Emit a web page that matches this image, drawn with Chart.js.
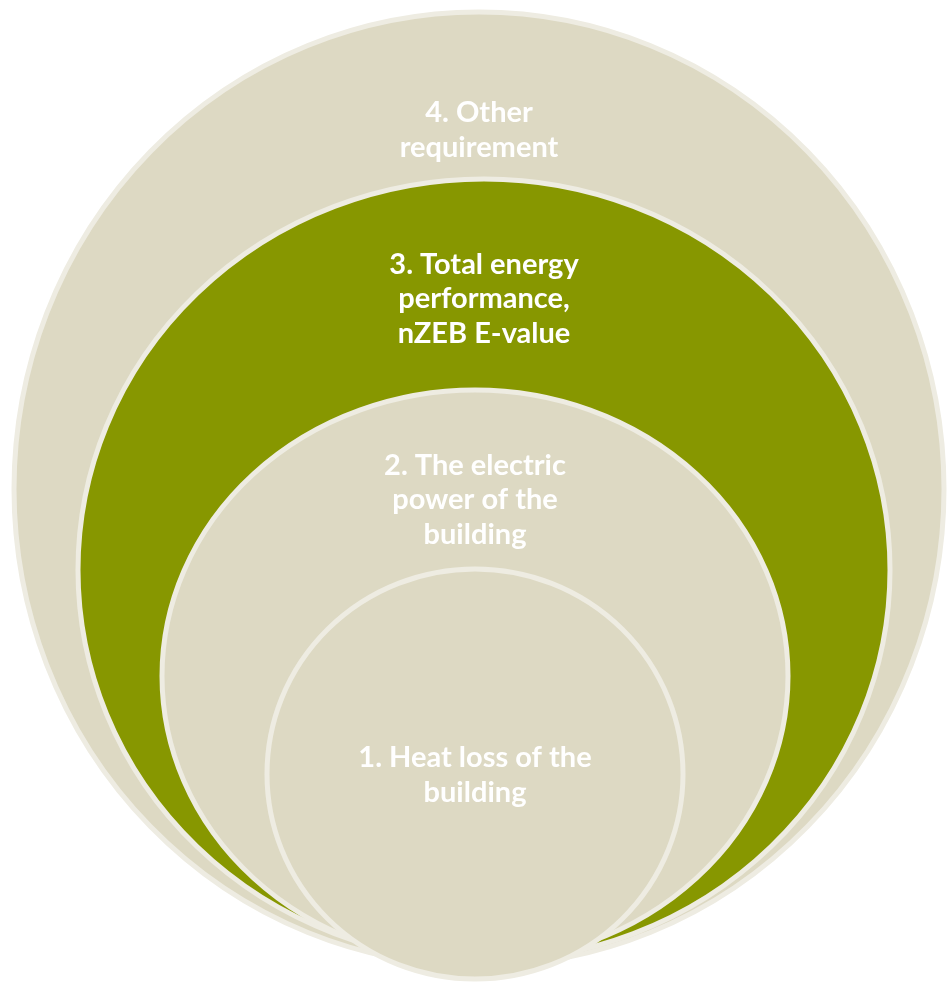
<!DOCTYPE html>
<html>
<head>
<meta charset="utf-8">
<title>nZEB requirements</title>
<script src="https://cdn.jsdelivr.net/npm/chart.js@4"></script>
<style>
    html, body { margin: 0; padding: 0; background: #ffffff; }
    #wrap { width: 947px; height: 984px; }
</style>
</head>
<body>
<div id="wrap"><canvas id="rings" width="947" height="984"></canvas></div>
<script>
// rings, from the outermost to the innermost
const ringLabels = [
    ['4. Other', 'requirement'],
    ['3. Total energy', 'performance,', 'nZEB E-value'],
    ['2. The electric', 'power of the', 'building'],
    ['1. Heat loss of the', 'building']
];
const centerX = [479, 484, 475, 475];
const centerY = [489, 570, 676, 774];
const radiusX = [465, 406, 313, 208];
const radiusY = [477, 391, 286, 205];
const labelY = [130, 299, 500, 775];

const ringFill = ['#ddd9c3', '#879700', '#ddd9c3', '#ddd9c3'];
const ringEdge = '#eeece2';

const ringPlugin = {
    id: 'ringPlugin',
    beforeDatasetsDraw(chart) {
        const { ctx, scales: { x, y } } = chart;
        ctx.save();
        chart.data.datasets.forEach((ds, i) => {
            const pt = chart.getDatasetMeta(i).data[0];
            const d = ds.data[0];
            const rx = Math.abs(x.getPixelForValue(d.x + d.rx) - pt.x);
            const ry = Math.abs(y.getPixelForValue(d.y + d.ry) - pt.y);
            ctx.beginPath();
            ctx.ellipse(pt.x, pt.y, rx, ry, 0, 0, Math.PI * 2);
            ctx.fillStyle = ringFill[i];
            ctx.fill();
            ctx.lineWidth = 5;
            ctx.strokeStyle = ringEdge;
            ctx.stroke();
        });
        ctx.restore();
    },
    afterDatasetsDraw(chart) {
        const { ctx, scales: { x, y } } = chart;
        ctx.save();
        ctx.font = 'bold 29px Lato';
        ctx.fillStyle = '#ffffff';
        ctx.textAlign = 'center';
        ctx.textBaseline = 'middle';
        const lineGap = 34.5;
        chart.data.datasets.forEach((ds, i) => {
            const d = ds.data[0];
            const lines = ds.lines;
            const cx = x.getPixelForValue(d.x);
            const cy = y.getPixelForValue(d.ly);
            const top = cy - (lines.length - 1) * lineGap / 2;
            lines.forEach((line, k) => ctx.fillText(line, cx, top + k * lineGap));
        });
        ctx.restore();
    }
};

new Chart(document.getElementById('rings'), {
    type: 'bubble',
    data: {
        datasets: ringLabels.map((lines, i) => ({
            label: lines.join(' '),
            lines: lines,
            data: [{ x: centerX[i], y: centerY[i], r: 0, rx: radiusX[i], ry: radiusY[i], ly: labelY[i] }],
            pointRadius: 0,
            radius: 0,
            hoverRadius: 0
        }))
    },
    options: {
        responsive: false,
        animation: false,
        events: [],
        layout: { padding: 0 },
        plugins: { legend: { display: false }, tooltip: { enabled: false } },
        scales: {
            x: { type: 'linear', min: 0, max: 947, display: false },
            y: { type: 'linear', min: 0, max: 984, reverse: true, display: false }
        }
    },
    plugins: [ringPlugin]
});
</script>
</body>
</html>
